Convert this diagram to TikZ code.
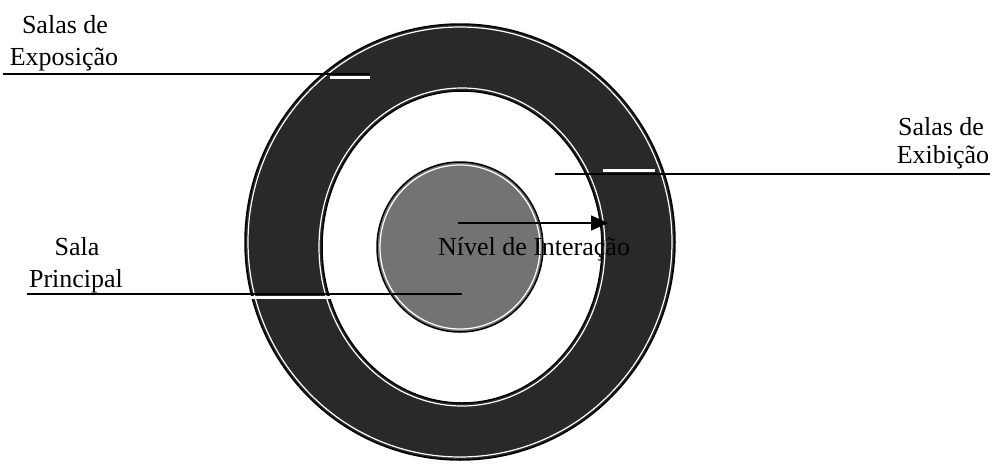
\documentclass[tikz,border=0pt]{standalone}
\usepackage{fontspec}
\setmainfont{Liberation Serif}
\usetikzlibrary{arrows.meta}
\definecolor{ringgray}{gray}{0.16}
\definecolor{diskgray}{gray}{0.45}
\tikzset{
  lbl/.style={font=\fontsize{26}{31}\selectfont, inner sep=0pt, anchor=base},
  leader/.style={line width=1.6pt, black},
  gapbar/.style={line width=3.5pt, white},
  edge/.style={line width=1.5pt, black},
  sheen/.style={line width=1.2pt, white},
  pointer/.style={line width=1.6pt, -{Triangle[length=17pt,width=15pt]}}
}
\begin{document}
\begin{tikzpicture}[x=1pt,y=-1pt]
\useasboundingbox (0,0) rectangle (1004,464);
% ring
\fill[ringgray, even odd rule] (460,242) ellipse [x radius=215pt, y radius=218pt]
      (462,247) ellipse [x radius=140pt, y radius=156pt];
\draw[sheen] (460,242) ellipse [x radius=212pt, y radius=215pt];
\draw[edge] (460,242) ellipse [x radius=215pt, y radius=218pt];
\draw[sheen] (462,247) ellipse [x radius=143pt, y radius=159pt];
\draw[edge] (462,247) ellipse [x radius=140pt, y radius=156pt];
% central disk
\fill[diskgray] (460,247) ellipse [x radius=83pt, y radius=85pt];
\draw[sheen] (460,247) ellipse [x radius=80pt, y radius=82pt];
\draw[edge] (460,247) ellipse [x radius=83pt, y radius=85pt];

% labels
\node[lbl] (expoA) at (65,33) {Salas de};
\node[lbl] (expoB) at (64,65) {Exposição};
\node[lbl] (exibA) at (941,135) {Salas de};
\node[lbl] (exibB) at (943,163) {Exibição};
\node[lbl] (princA) at (77,255) {Sala};
\node[lbl] (princB) at (76,287) {Principal};

% leader lines
\coordinate (expoS) at (3,74);
\coordinate (expoE) at (370,74);
\coordinate (expoG1) at (330,77.5);
\coordinate (expoG2) at (370,77.5);
\draw[gapbar] (expoG1) -- (expoG2);
\draw[leader] (expoS) -- (expoE);

\coordinate (exibS) at (990,174);
\coordinate (exibE) at (555,174);
\coordinate (exibG1) at (603,170.5);
\coordinate (exibG2) at (655,170.5);
\draw[gapbar] (exibG1) -- (exibG2);
\draw[leader] (exibS) -- (exibE);

\coordinate (princS) at (27,294);
\coordinate (princE) at (462,294);
\coordinate (princG1) at (250,297.5);
\coordinate (princG2) at (332,297.5);
\draw[gapbar] (princG1) -- (princG2);
\draw[leader] (princS) -- (princE);

% arrow
\coordinate (arrS) at (458,223);
\coordinate (arrE) at (608,223);
\draw[pointer] (arrS) -- (arrE);

\node[lbl] (nivel) at (534,255) {Nível de Interação};
\end{tikzpicture}
\end{document}
